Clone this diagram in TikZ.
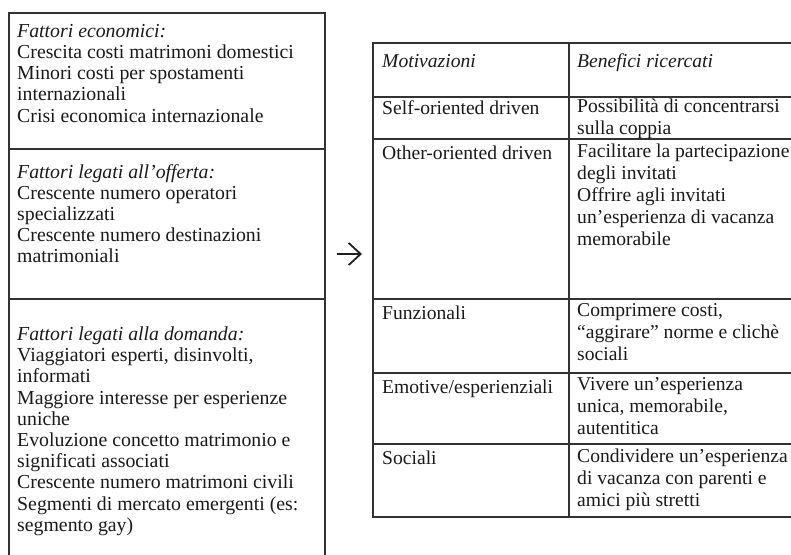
\documentclass[tikz,border=0pt]{standalone}
\usepackage{fontspec}
\setmainfont{Liberation Serif}
\usetikzlibrary{arrows.meta}
\begin{document}
\begin{tikzpicture}[x=1pt,y=-1pt,
  lcell/.style={anchor=north west, inner sep=0pt, align=left, font=\fontsize{19.8}{21.2}\selectfont, text=black!90, execute at begin node=\strut},
  rcell/.style={anchor=north west, inner sep=0pt, align=left, font=\fontsize{19.6}{22}\selectfont, text=black!90, execute at begin node=\strut},
  rule/.style={line width=1.25pt, draw=black!80},
  arrowline/.style={line width=1.8pt, draw=black!88, -{Straight Barb[length=12pt,width=22pt,line width=1.8pt]}}]
\useasboundingbox (0,0) rectangle (791,554);
\clip (0,0) rectangle (791,554);

% ---- left box ----
\draw[rule] (9,600) -- (9,13) -- (325,13) -- (325,600);
\draw[rule] (9,149) -- (325,149);
\draw[rule] (9,299) -- (325,299);

\node[lcell] (eco) at (17,24) {\textit{Fattori economici:}\\Crescita costi matrimoni domestici\\Minori costi per spostamenti\\internazionali\\Crisi economica internazionale};
\node[lcell] (off) at (17,164) {\textit{Fattori legati all’offerta:}\\Crescente numero operatori\\specializzati\\Crescente numero destinazioni\\matrimoniali};
\node[lcell] (dom) at (17,326.5) {\textit{Fattori legati alla domanda:}\\Viaggiatori esperti, disinvolti,\\informati\\Maggiore interesse per esperienze\\uniche\\Evoluzione concetto matrimonio e\\significati associati\\Crescente numero matrimoni civili\\Segmenti di mercato emergenti (es:\\segmento gay)};

% ---- arrow ----
\coordinate (arrowS) at (337,254);
\coordinate (arrowE) at (362,254);
\draw[arrowline] (arrowS) -- (arrowE);

% ---- right table ----
\draw[rule] (800,43) -- (373,43) -- (373,517) -- (800,517);
\draw[rule] (569,43) -- (569,517);
\foreach \yy in {97,139,299,373,444} \draw[rule] (373,\yy) -- (800,\yy);

\node[rcell] (h1) at (382,51.6) {\textit{Motivazioni}};
\node[rcell] (h2) at (577,51.6) {\textit{Benefici ricercati}};
\node[rcell] (m1) at (382,98.6) {Self-oriented driven};
\node[rcell] (b1) at (577,98.6) {Possibilità di concentrarsi\\sulla coppia};
\node[rcell] (m2) at (382,143.6) {Other-oriented driven};
\node[rcell] (b2) at (577,143.6) {Facilitare la partecipazione\\degli invitati\\Offrire agli invitati\\un’esperienza di vacanza\\memorabile};
\node[rcell] (m3) at (382,303.6) {Funzionali};
\node[rcell] (b3) at (577,303.6) {Comprimere costi,\\“aggirare” norme e clichè\\sociali};
\node[rcell] (m4) at (382,377.6) {Emotive/esperienziali};
\node[rcell] (b4) at (577,377.6) {Vivere un’esperienza\\unica, memorabile,\\autentitica};
\node[rcell] (m5) at (382,448.6) {Sociali};
\node[rcell] (b5) at (577,448.6) {Condividere un’esperienza\\di vacanza con parenti e\\amici più stretti};
\end{tikzpicture}
\end{document}
